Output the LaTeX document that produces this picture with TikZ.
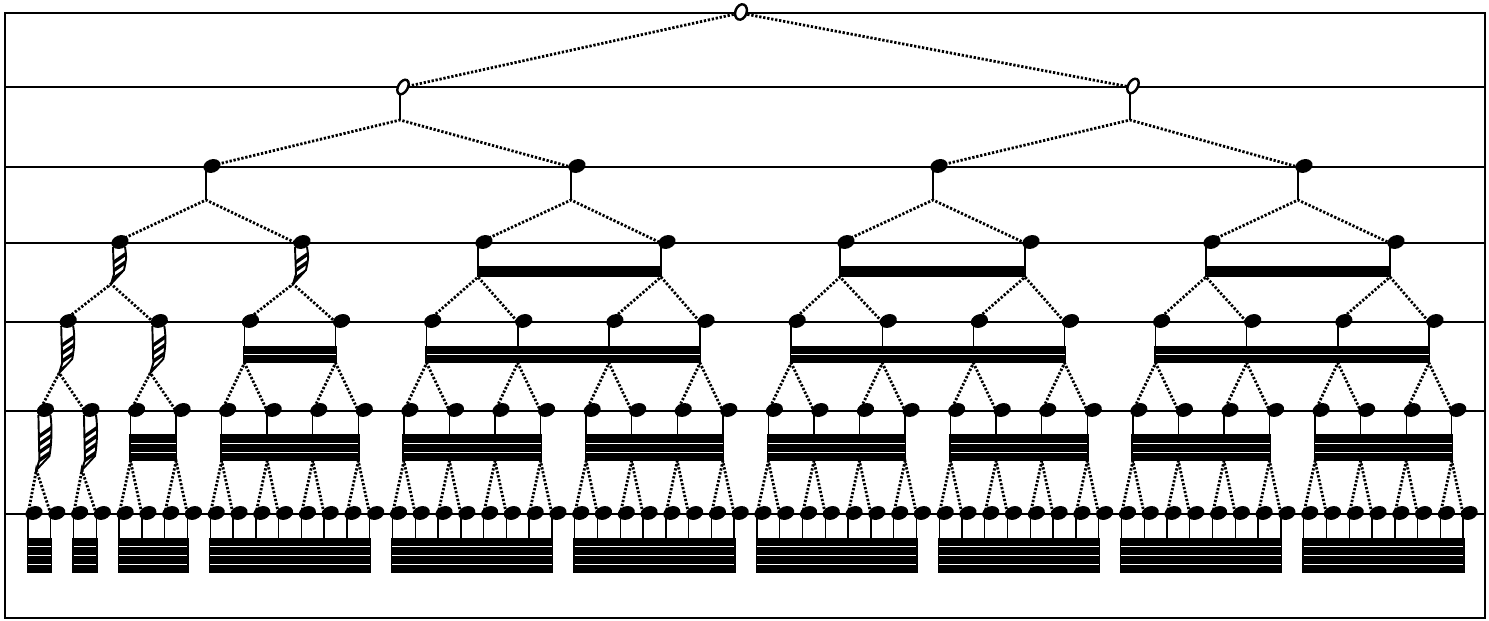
\documentclass[tikz,border=0pt]{standalone}
\usetikzlibrary{shapes.geometric,calc}
\newcommand\barbody[3]{%
  \foreach \k in {#2,...,#3}{\draw[conn] (a#1-\k) -- (t#1-\k);}
  \fill ([xshift=-0.8pt]t#1-#2) rectangle ([xshift=0.8pt]u#1-#3);
}
\newcommand\barwhite[4]{%
  \foreach \f in {#4}{\draw[white, line width=0.5pt] ($(t#1-#2)!\f!(u#1-#2)$) -- ($(t#1-#3)!\f!(u#1-#3)$);}
}
\newcommand\hatchconn[3]{%
  \begin{scope}
    \clip ([shift={(-1,4)}]a#1-#2) -- ([shift={(3,-10)}]j#1-#2) -- (j#1-#2) -- ([shift={(13,-14)}]j#1-#2) .. controls ([shift={(15,-24)}]j#1-#2) and ([shift={(13,16)}]a#1-#2) .. ([shift={(11,4)}]a#1-#2) -- cycle;
    \fill[white] ([shift={(-5,0)}]a#1-#2) rectangle ([shift={(17,2)}]j#1-#2);
    \foreach \s in {#3}{\draw[line width=2pt] ([shift={(-4,\s+7)}]a#1-#2) -- ([shift={(16,\s-7)}]a#1-#2);}
  \end{scope}
  \draw[line width=1.1pt] ([shift={(-1,4)}]a#1-#2) -- ([shift={(3,-10)}]j#1-#2) -- (j#1-#2) -- ([shift={(13,-14)}]j#1-#2) .. controls ([shift={(15,-24)}]j#1-#2) and ([shift={(13,16)}]a#1-#2) .. ([shift={(11,4)}]a#1-#2);
}
\begin{document}
\begin{tikzpicture}[x=0.02cm,y=-0.02cm,
  rule/.style={line width=1.2pt},
  conn/.style={line width=0.8pt},
  dotline/.style={line width=1.6pt, dash pattern=on 1.3pt off 1pt},
  blob/.style={ellipse, fill=black, draw=none, inner sep=0pt, minimum width=10pt, minimum height=7.6pt, rotate=20},
  ring/.style={ellipse, draw=black, fill=white, line width=1.4pt, inner sep=0pt, minimum width=5.4pt, minimum height=9pt, rotate=-30},
]
\useasboundingbox (0,0) rectangle (1489,621);
% frame and level rules
\draw[rule] (5,13) rectangle (1485,618);
\foreach \y [count=\c from 0] in {13,87,167,243,322,411,514}{
  \coordinate (ruleL-\c) at (5,\y); \coordinate (ruleR-\c) at (1485,\y);
  \draw[rule] (ruleL-\c) -- (ruleR-\c);
}
% coordinates
\coordinate (a0-0) at (740,13);
\coordinate (a1-0) at (400,88); \coordinate (j1-0) at (400,120);
\coordinate (a1-1) at (1130,87); \coordinate (j1-1) at (1130,120);
\foreach \x [count=\c from 0] in {206,571,933,1298}{
  \coordinate (a2-\c) at (\x,167); \coordinate (j2-\c) at (\x,200);}
\foreach \x [count=\c from 0] in {114,296,478,661,840,1025,1206,1390}{
  \coordinate (a3-\c) at (\x,243);
  \coordinate (t3-\c) at (\x,266);
  \coordinate (u3-\c) at (\x,277);
  \ifnum\c<2 \coordinate (j3-\c) at (\x-3,284); \else \coordinate (j3-\c) at (\x,277); \fi
}
\foreach \i in {0,...,15}{
  \pgfmathsetmacro\x{62.2+91.12*\i}
  \coordinate (a4-\i) at (\x,322);
  \coordinate (t4-\i) at (\x,346);
  \coordinate (u4-\i) at (\x,363);
  \ifnum\i<2 \coordinate (j4-\i) at (\x-3,373); \else \coordinate (j4-\i) at (\x,363); \fi
}
\foreach \i in {0,...,31}{
  \pgfmathsetmacro\x{39.4+45.56*\i}
  \coordinate (a5-\i) at (\x,411);
  \coordinate (t5-\i) at (\x,434);
  \coordinate (u5-\i) at (\x,461);
  \ifnum\i<2 \coordinate (j5-\i) at (\x-3,470); \else \coordinate (j5-\i) at (\x,461); \fi
}
\foreach \i in {0,...,63}{
  \pgfmathsetmacro\x{28+22.78*\i}
  \coordinate (a6-\i) at (\x,514);
  \coordinate (t6-\i) at (\x,538);
  \coordinate (u6-\i) at (\x,573);
}
% dotted edges
\draw[dotline] (a1-0) -- (a0-0) -- (a1-1);
\foreach \l/\n in {1/1,2/3,3/7,4/15,5/31}{
  \pgfmathtruncatemacro\m{\l+1}
  \foreach \i in {0,...,\n}{
    \pgfmathtruncatemacro\p{2*\i}
    \pgfmathtruncatemacro\q{2*\i+1}
    \draw[dotline] (a\m-\p) -- (j\l-\i) -- (a\m-\q);
  }
}
% vertical stems
\foreach \i in {0,1}{\draw[conn] (a1-\i) -- (j1-\i);}
\foreach \i in {0,...,3}{\draw[conn] (a2-\i) -- (j2-\i);}
% bars level 3
\barbody{3}{2}{3}\barbody{3}{4}{5}\barbody{3}{6}{7}
% bars level 4
\foreach \a/\b in {2/3,4/7,8/11,12/15}{\barbody{4}{\a}{\b}\barwhite{4}{\a}{\b}{0.5}}
% bars level 5
\foreach \a/\b in {2/3,4/7,8/11,12/15,16/19,20/23,24/27,28/31}{\barbody{5}{\a}{\b}\barwhite{5}{\a}{\b}{0.34,0.67}}
% bars level 6
\foreach \a/\b in {0/1,2/3,4/7,8/15,16/23,24/31,32/39,40/47,48/55,56/63}{\barbody{6}{\a}{\b}\barwhite{6}{\a}{\b}{0.25,0.5,0.75}}
% hatched twisted connectors
\foreach \i in {0,1}{\hatchconn{3}{\i}{15,23,31}}
\foreach \i in {0,1}{\hatchconn{4}{\i}{19,27,35,43}}
\foreach \i in {0,1}{\hatchconn{5}{\i}{21,29,37,45,53}}
% nodes
\node[ring, minimum width=6.4pt, minimum height=9pt, rotate=10] (b0-0) at (741,12) {};
\foreach \i in {0,1}{\node[ring] (b1-\i) at ([shift={(3,-1)}]a1-\i) {};}
\foreach \l/\n in {2/3,3/7,4/15,5/31,6/63}{
  \foreach \i in {0,...,\n}{\node[blob] (b\l-\i) at ([shift={(6,-1)}]a\l-\i) {};}
}
\end{tikzpicture}
\end{document}
